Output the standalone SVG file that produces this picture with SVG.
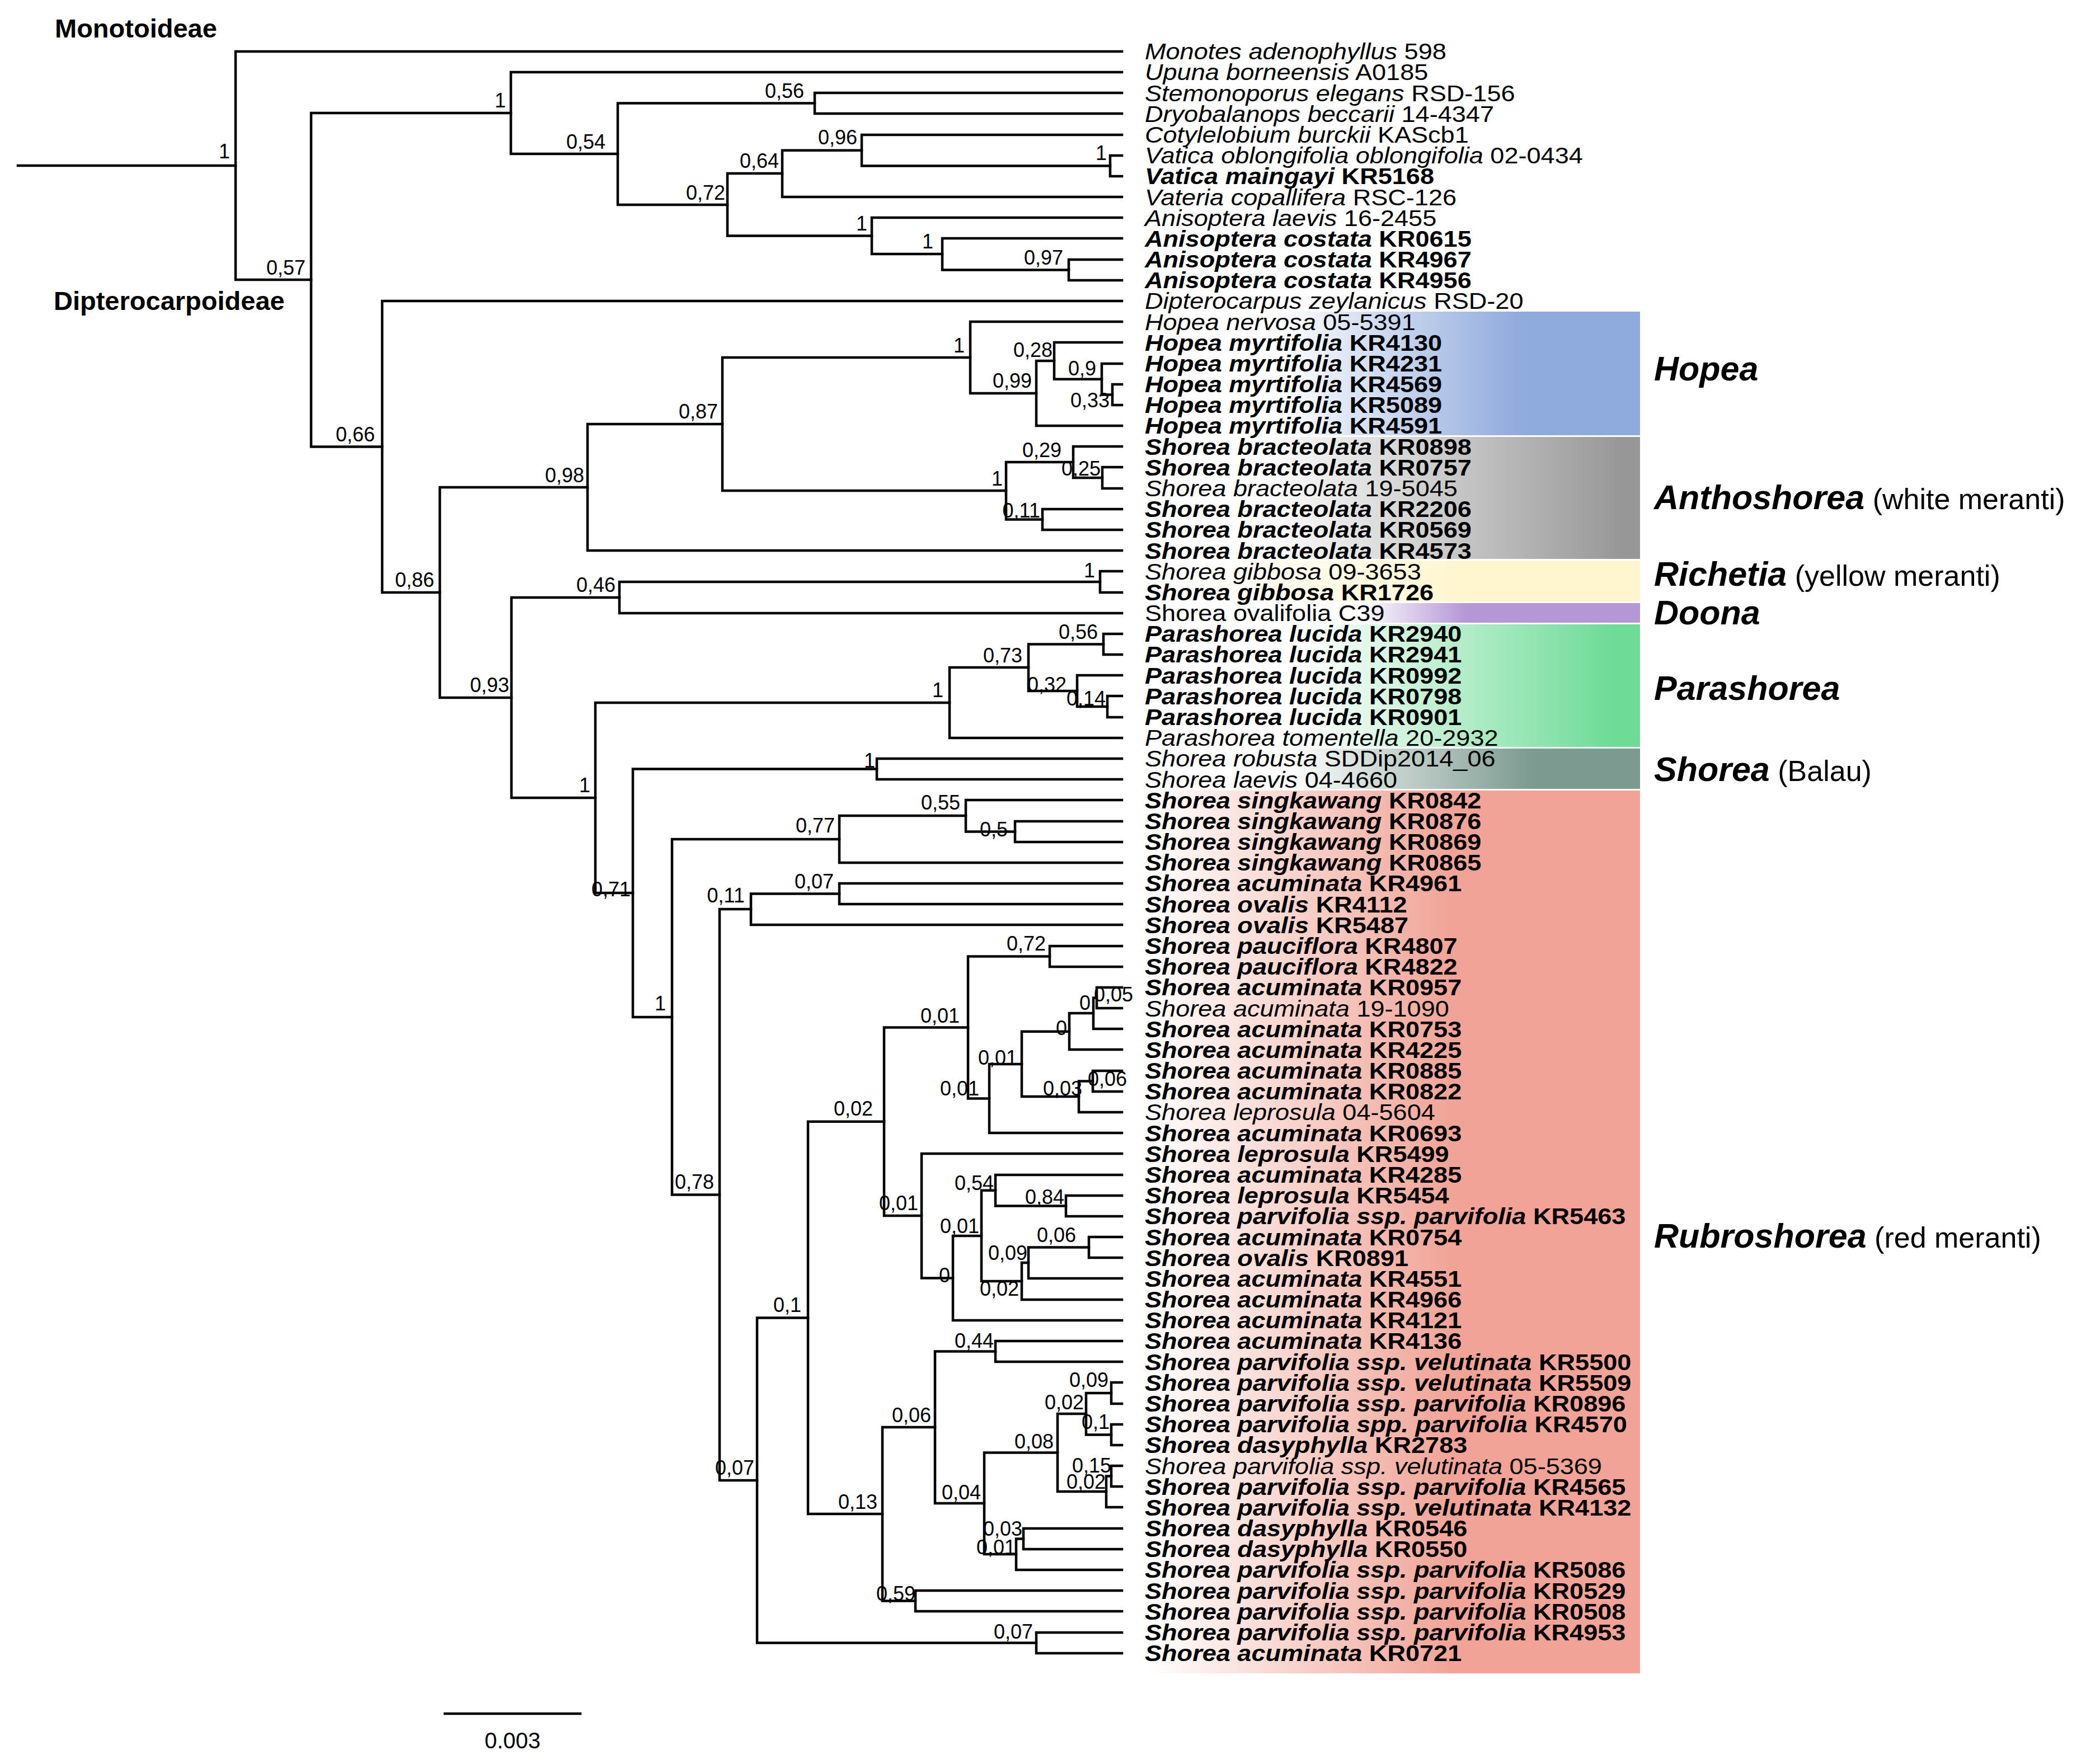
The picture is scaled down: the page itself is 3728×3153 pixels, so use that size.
<svg xmlns="http://www.w3.org/2000/svg" width="3728" height="3153" viewBox="0 0 3728 3153">
<style>
.br{fill:none;stroke:#000;stroke-width:4.5;stroke-linecap:square;stroke-linejoin:miter}
.sv{font-family:'Liberation Sans',Arial,sans-serif;font-size:36px;text-anchor:end;fill:#000}
.lf{font-family:'Liberation Sans',Arial,sans-serif;font-size:41px;fill:#000}
.b{font-weight:bold}
.i{font-style:italic}
.cl{font-family:'Liberation Sans',Arial,sans-serif;font-size:61px;font-weight:bold;font-style:italic;fill:#000}
.cs{font-size:52px;font-weight:normal;font-style:normal}
.sub{font-family:'Liberation Sans',Arial,sans-serif;font-size:47px;font-weight:bold;fill:#000}
</style>
<defs>
<linearGradient id="gHop" gradientUnits="userSpaceOnUse" x1="2280" y1="0" x2="2720" y2="0"><stop offset="0" stop-color="#fff"/><stop offset="1" stop-color="#8FAADC"/></linearGradient>
<linearGradient id="gAnt" gradientUnits="userSpaceOnUse" x1="2250" y1="0" x2="2900" y2="0"><stop offset="0" stop-color="#fff"/><stop offset="1" stop-color="#979797"/></linearGradient>
<linearGradient id="gRic" gradientUnits="userSpaceOnUse" x1="2150" y1="0" x2="2600" y2="0"><stop offset="0" stop-color="#fff"/><stop offset="1" stop-color="#FFF6D0"/></linearGradient>
<linearGradient id="gDoo" gradientUnits="userSpaceOnUse" x1="2430" y1="0" x2="2620" y2="0"><stop offset="0" stop-color="#fff"/><stop offset="1" stop-color="#B597D6"/></linearGradient>
<linearGradient id="gPar" gradientUnits="userSpaceOnUse" x1="2330" y1="0" x2="2880" y2="0"><stop offset="0" stop-color="#fff"/><stop offset="1" stop-color="#6EDB97"/></linearGradient>
<linearGradient id="gBal" gradientUnits="userSpaceOnUse" x1="2300" y1="0" x2="2740" y2="0"><stop offset="0" stop-color="#fff"/><stop offset="1" stop-color="#7C9A8F"/></linearGradient>
<linearGradient id="gRub" gradientUnits="userSpaceOnUse" x1="2050" y1="0" x2="2600" y2="0"><stop offset="0" stop-color="#fff"/><stop offset="1" stop-color="#F0A396"/></linearGradient>
</defs>
<rect width="3728" height="3153" fill="#fff"/>

<g id="clades">
<g id="clade-hopea"><rect x="2040" y="557" width="891" height="221" fill="url(#gHop)"/><text class="cl" x="2956" y="680">Hopea</text></g>
<g id="clade-anthoshorea"><rect x="2040" y="781" width="891" height="218" fill="url(#gAnt)"/><text class="cl" x="2956" y="910">Anthoshorea<tspan class="cs"> (white meranti)</tspan></text></g>
<g id="clade-richetia"><rect x="2040" y="1002" width="891" height="73" fill="url(#gRic)"/><text class="cl" x="2956" y="1047">Richetia<tspan class="cs"> (yellow meranti)</tspan></text></g>
<g id="clade-doona"><rect x="2040" y="1078" width="891" height="35" fill="url(#gDoo)"/><text class="cl" x="2956" y="1116">Doona</text></g>
<g id="clade-parashorea"><rect x="2040" y="1116" width="891" height="219" fill="url(#gPar)"/><text class="cl" x="2956" y="1251">Parashorea</text></g>
<g id="clade-shorea"><rect x="2040" y="1338" width="891" height="72" fill="url(#gBal)"/><text class="cl" x="2956" y="1396">Shorea<tspan class="cs"> (Balau)</tspan></text></g>
<g id="clade-rubroshorea"><rect x="2040" y="1413" width="891" height="1578" fill="url(#gRub)"/><text class="cl" x="2956" y="2230">Rubroshorea<tspan class="cs"> (red meranti)</tspan></text></g>
</g>

<g id="subfamilies">
<text class="sub" x="98" y="67">Monotoideae</text>
<text class="sub" x="96" y="554">Dipterocarpoideae</text>
</g>

<g id="connectors" class="br">
<path d="M32 296H421"/>
<path d="M2005 92H421V500H556"/>
<path d="M913 202H556V798.5H683"/>
<path d="M2005 129H913V275H1104"/>
<path d="M1456 184.5H1104V366H1300"/>
<path d="M2005 166H1456V203H2005"/>
<path d="M1398 310H1300V421.5H1558"/>
<path d="M1540 268.7H1398V352H2005"/>
<path d="M2005 241H1540V296.5H1984"/>
<path d="M2005 278H1984V315H2005"/>
<path d="M2005 389H1558V454H1684"/>
<path d="M2005 426H1684V482.5H1910"/>
<path d="M2005 464H1910V501H2005"/>
<path d="M2005 538H683V1059H786"/>
<path d="M1050 871H786V1247H914"/>
<path d="M1291 758H1050V984H2005"/>
<path d="M1734 639H1291V877H1798"/>
<path d="M2005 575H1734V703H1852"/>
<path d="M1884 645H1852V761H2005"/>
<path d="M2005 612H1884V677.7H1969"/>
<path d="M2005 650H1969V705.5H1988"/>
<path d="M2005 687H1988V724H2005"/>
<path d="M1918 826H1798V928.5H1863"/>
<path d="M2005 798H1918V854H1970"/>
<path d="M2005 835H1970V873H2005"/>
<path d="M2005 910H1863V947H2005"/>
<path d="M1107 1068H914V1426H1064"/>
<path d="M1966 1040H1107V1096H2005"/>
<path d="M2005 1021H1966V1059H2005"/>
<path d="M1697 1256H1064V1596H1131"/>
<path d="M1838 1193H1697V1319H2005"/>
<path d="M1972 1151.5H1838V1235H1925"/>
<path d="M2005 1133H1972V1170H2005"/>
<path d="M2005 1207H1925V1263H1979"/>
<path d="M2005 1244H1979V1282H2005"/>
<path d="M1567 1374.5H1131V1818H1201"/>
<path d="M2005 1356H1567V1393H2005"/>
<path d="M1500 1500H1201V2135.5H1286"/>
<path d="M1726 1458H1500V1542H2005"/>
<path d="M2005 1430H1726V1486.5H1814"/>
<path d="M2005 1468H1814V1505H2005"/>
<path d="M1342 1625H1286V2646H1353"/>
<path d="M1500 1597.5H1342V1653H2005"/>
<path d="M2005 1579H1500V1616H2005"/>
<path d="M1444 2355.4H1353V2936.5H1852"/>
<path d="M2005 2918H1852V2955H2005"/>
<path d="M1580 2004.8H1444V2706H1577"/>
<path d="M1730 1836.5H1580V2173H1647"/>
<path d="M1876 1709.5H1730V1963.5H1768"/>
<path d="M2005 1691H1876V1728H2005"/>
<path d="M1826 1902H1768V2025H2005"/>
<path d="M1911 1843.7H1826V1960H1928"/>
<path d="M1954 1811H1911V1876H2005"/>
<path d="M1960 1783.5H1954V1839H2005"/>
<path d="M2005 1765H1960V1802H2005"/>
<path d="M1953 1932.5H1928V1988H2005"/>
<path d="M2005 1914H1953V1951H2005"/>
<path d="M2005 2062H1647V2284.5H1703"/>
<path d="M1754 2209H1703V2360H2005"/>
<path d="M1779 2127.7H1754V2290H1826"/>
<path d="M2005 2100H1779V2155.5H1905"/>
<path d="M2005 2137H1905V2174H2005"/>
<path d="M1838 2257H1826V2323H2005"/>
<path d="M1946 2229.5H1838V2285H2005"/>
<path d="M2005 2211H1946V2248H2005"/>
<path d="M1671 2551H1577V2861.5H1636"/>
<path d="M1779 2415.5H1671V2687H1759"/>
<path d="M2005 2397H1779V2434H2005"/>
<path d="M1890 2596.5H1759V2778H1816"/>
<path d="M1941 2527H1890V2666H1977"/>
<path d="M1986 2490H1941V2564.5H1986"/>
<path d="M2005 2471H1986V2509H2005"/>
<path d="M2005 2546H1986V2583H2005"/>
<path d="M1986 2638.5H1977V2694H2005"/>
<path d="M2005 2620H1986V2657H2005"/>
<path d="M1829 2750.5H1816V2806H2005"/>
<path d="M2005 2732H1829V2769H2005"/>
<path d="M2005 2843H1636V2880H2005"/>
</g>

<g id="support-values" class="sv">
<text x="411" y="283">1</text>
<text x="546" y="491">0,57</text>
<text x="904" y="192">1</text>
<text x="1082" y="266">0,54</text>
<text x="1437" y="175">0,56</text>
<text x="1296" y="357">0,72</text>
<text x="1392" y="300">0,64</text>
<text x="1532" y="258">0,96</text>
<text x="1978" y="286">1</text>
<text x="1550" y="412">1</text>
<text x="1668" y="444">1</text>
<text x="1900" y="473">0,97</text>
<text x="670" y="789">0,66</text>
<text x="776" y="1049">0,86</text>
<text x="1044" y="862">0,98</text>
<text x="1283" y="748">0,87</text>
<text x="1724" y="630">1</text>
<text x="1844" y="693">0,99</text>
<text x="1881" y="638">0,28</text>
<text x="1959" y="671">0,9</text>
<text x="1983" y="728">0,33</text>
<text x="1792" y="868">1</text>
<text x="1897" y="817">0,29</text>
<text x="1967" y="850">0,25</text>
<text x="1859" y="925">0,11</text>
<text x="910" y="1237">0,93</text>
<text x="1100" y="1058">0,46</text>
<text x="1957" y="1032">1</text>
<text x="1055" y="1416">1</text>
<text x="1686" y="1246">1</text>
<text x="1827" y="1184">0,73</text>
<text x="1962" y="1142">0,56</text>
<text x="1906" y="1236">0,32</text>
<text x="1976" y="1261">0,14</text>
<text x="1127" y="1602">0,71</text>
<text x="1564" y="1372">1</text>
<text x="1190" y="1806">1</text>
<text x="1492" y="1488">0,77</text>
<text x="1716" y="1447">0,55</text>
<text x="1801" y="1495">0,5</text>
<text x="1276" y="2125">0,78</text>
<text x="1331" y="1613">0,11</text>
<text x="1490" y="1588">0,07</text>
<text x="1348" y="2636">0,07</text>
<text x="1432" y="2345">0,1</text>
<text x="1560" y="1994">0,02</text>
<text x="1715" y="1828">0,01</text>
<text x="1869" y="1699">0,72</text>
<text x="1750" y="1958">0,01</text>
<text x="1818" y="1903">0,01</text>
<text x="1907" y="1850">0</text>
<text x="1949" y="1805">0</text>
<text x="2025" y="1790">0,05</text>
<text x="1934" y="1958">0,03</text>
<text x="2014" y="1941">0,06</text>
<text x="1641" y="2163">0,01</text>
<text x="1698" y="2292">0</text>
<text x="1750" y="2204">0,01</text>
<text x="1776" y="2127">0,54</text>
<text x="1902" y="2152">0,84</text>
<text x="1821" y="2316">0,02</text>
<text x="1836" y="2252">0,09</text>
<text x="1923" y="2220">0,06</text>
<text x="1568" y="2697">0,13</text>
<text x="1664" y="2542">0,06</text>
<text x="1776" y="2409">0,44</text>
<text x="1753" y="2680">0,04</text>
<text x="1883" y="2589">0,08</text>
<text x="1937" y="2519">0,02</text>
<text x="1981" y="2479">0,09</text>
<text x="1983" y="2554">0,1</text>
<text x="1976" y="2661">0,02</text>
<text x="1986" y="2632">0,15</text>
<text x="1815" y="2778">0,01</text>
<text x="1827" y="2745">0,03</text>
<text x="1636" y="2861">0,59</text>
<text x="1846" y="2929">0,07</text>
</g>

<g id="taxa" class="lf" transform="matrix(1.1 0 0 1 2046 0)">
<g id="t00"><text y="106.3"><tspan class="i">Monotes adenophyllus</tspan> 598</text></g>
<g id="t01"><text y="143.5"><tspan class="i">Upuna borneensis</tspan> A0185</text></g>
<g id="t02"><text y="180.7"><tspan class="i">Stemonoporus elegans</tspan> RSD-156</text></g>
<g id="t03"><text y="217.8"><tspan class="i">Dryobalanops beccarii</tspan> 14-4347</text></g>
<g id="t04"><text y="255"><tspan class="i">Cotylelobium burckii</tspan> KAScb1</text></g>
<g id="t05"><text y="292.2"><tspan class="i">Vatica oblongifolia oblongifolia</tspan> 02-0434</text></g>
<g id="t06"><text class="b" y="329.4"><tspan class="i">Vatica maingayi</tspan> KR5168</text></g>
<g id="t07"><text y="366.6"><tspan class="i">Vateria copallifera</tspan> RSC-126</text></g>
<g id="t08"><text y="403.7"><tspan class="i">Anisoptera laevis</tspan> 16-2455</text></g>
<g id="t09"><text class="b" y="440.9"><tspan class="i">Anisoptera costata</tspan> KR0615</text></g>
<g id="t10"><text class="b" y="478.1"><tspan class="i">Anisoptera costata</tspan> KR4967</text></g>
<g id="t11"><text class="b" y="515.3"><tspan class="i">Anisoptera costata</tspan> KR4956</text></g>
<g id="t12"><text y="552.5"><tspan class="i">Dipterocarpus zeylanicus</tspan> RSD-20</text></g>
<g id="t13"><text y="589.6"><tspan class="i">Hopea nervosa</tspan> 05-5391</text></g>
<g id="t14"><text class="b" y="626.8"><tspan class="i">Hopea myrtifolia</tspan> KR4130</text></g>
<g id="t15"><text class="b" y="664"><tspan class="i">Hopea myrtifolia</tspan> KR4231</text></g>
<g id="t16"><text class="b" y="701.2"><tspan class="i">Hopea myrtifolia</tspan> KR4569</text></g>
<g id="t17"><text class="b" y="738.4"><tspan class="i">Hopea myrtifolia</tspan> KR5089</text></g>
<g id="t18"><text class="b" y="775.5"><tspan class="i">Hopea myrtifolia</tspan> KR4591</text></g>
<g id="t19"><text class="b" y="812.7"><tspan class="i">Shorea bracteolata</tspan> KR0898</text></g>
<g id="t20"><text class="b" y="849.9"><tspan class="i">Shorea bracteolata</tspan> KR0757</text></g>
<g id="t21"><text y="887.1"><tspan class="i">Shorea bracteolata</tspan> 19-5045</text></g>
<g id="t22"><text class="b" y="924.3"><tspan class="i">Shorea bracteolata</tspan> KR2206</text></g>
<g id="t23"><text class="b" y="961.4"><tspan class="i">Shorea bracteolata</tspan> KR0569</text></g>
<g id="t24"><text class="b" y="998.6"><tspan class="i">Shorea bracteolata</tspan> KR4573</text></g>
<g id="t25"><text y="1035.8"><tspan class="i">Shorea gibbosa</tspan> 09-3653</text></g>
<g id="t26"><text class="b" y="1073"><tspan class="i">Shorea gibbosa</tspan> KR1726</text></g>
<g id="t27"><text y="1110.2">Shorea ovalifolia C39</text></g>
<g id="t28"><text class="b" y="1147.3"><tspan class="i">Parashorea lucida</tspan> KR2940</text></g>
<g id="t29"><text class="b" y="1184.5"><tspan class="i">Parashorea lucida</tspan> KR2941</text></g>
<g id="t30"><text class="b" y="1221.7"><tspan class="i">Parashorea lucida</tspan> KR0992</text></g>
<g id="t31"><text class="b" y="1258.9"><tspan class="i">Parashorea lucida</tspan> KR0798</text></g>
<g id="t32"><text class="b" y="1296.1"><tspan class="i">Parashorea lucida</tspan> KR0901</text></g>
<g id="t33"><text y="1333.2"><tspan class="i">Parashorea tomentella</tspan> 20-2932</text></g>
<g id="t34"><text y="1370.4"><tspan class="i">Shorea robusta</tspan> SDDip2014_06</text></g>
<g id="t35"><text y="1407.6"><tspan class="i">Shorea laevis</tspan> 04-4660</text></g>
<g id="t36"><text class="b" y="1444.8"><tspan class="i">Shorea singkawang</tspan> KR0842</text></g>
<g id="t37"><text class="b" y="1482"><tspan class="i">Shorea singkawang</tspan> KR0876</text></g>
<g id="t38"><text class="b" y="1519.1"><tspan class="i">Shorea singkawang</tspan> KR0869</text></g>
<g id="t39"><text class="b" y="1556.3"><tspan class="i">Shorea singkawang</tspan> KR0865</text></g>
<g id="t40"><text class="b" y="1593.5"><tspan class="i">Shorea acuminata</tspan> KR4961</text></g>
<g id="t41"><text class="b" y="1630.7"><tspan class="i">Shorea ovalis</tspan> KR4112</text></g>
<g id="t42"><text class="b" y="1667.9"><tspan class="i">Shorea ovalis</tspan> KR5487</text></g>
<g id="t43"><text class="b" y="1705"><tspan class="i">Shorea pauciflora</tspan> KR4807</text></g>
<g id="t44"><text class="b" y="1742.2"><tspan class="i">Shorea pauciflora</tspan> KR4822</text></g>
<g id="t45"><text class="b" y="1779.4"><tspan class="i">Shorea acuminata</tspan> KR0957</text></g>
<g id="t46"><text y="1816.6"><tspan class="i">Shorea acuminata</tspan> 19-1090</text></g>
<g id="t47"><text class="b" y="1853.8"><tspan class="i">Shorea acuminata</tspan> KR0753</text></g>
<g id="t48"><text class="b" y="1890.9"><tspan class="i">Shorea acuminata</tspan> KR4225</text></g>
<g id="t49"><text class="b" y="1928.1"><tspan class="i">Shorea acuminata</tspan> KR0885</text></g>
<g id="t50"><text class="b" y="1965.3"><tspan class="i">Shorea acuminata</tspan> KR0822</text></g>
<g id="t51"><text y="2002.5"><tspan class="i">Shorea leprosula</tspan> 04-5604</text></g>
<g id="t52"><text class="b" y="2039.7"><tspan class="i">Shorea acuminata</tspan> KR0693</text></g>
<g id="t53"><text class="b" y="2076.8"><tspan class="i">Shorea leprosula</tspan> KR5499</text></g>
<g id="t54"><text class="b" y="2114"><tspan class="i">Shorea acuminata</tspan> KR4285</text></g>
<g id="t55"><text class="b" y="2151.2"><tspan class="i">Shorea leprosula</tspan> KR5454</text></g>
<g id="t56"><text class="b" y="2188.4"><tspan class="i">Shorea parvifolia ssp. parvifolia</tspan> KR5463</text></g>
<g id="t57"><text class="b" y="2225.6"><tspan class="i">Shorea acuminata</tspan> KR0754</text></g>
<g id="t58"><text class="b" y="2262.7"><tspan class="i">Shorea ovalis</tspan> KR0891</text></g>
<g id="t59"><text class="b" y="2299.9"><tspan class="i">Shorea acuminata</tspan> KR4551</text></g>
<g id="t60"><text class="b" y="2337.1"><tspan class="i">Shorea acuminata</tspan> KR4966</text></g>
<g id="t61"><text class="b" y="2374.3"><tspan class="i">Shorea acuminata</tspan> KR4121</text></g>
<g id="t62"><text class="b" y="2411.5"><tspan class="i">Shorea acuminata</tspan> KR4136</text></g>
<g id="t63"><text class="b" y="2448.6"><tspan class="i">Shorea parvifolia ssp. velutinata</tspan> KR5500</text></g>
<g id="t64"><text class="b" y="2485.8"><tspan class="i">Shorea parvifolia ssp. velutinata</tspan> KR5509</text></g>
<g id="t65"><text class="b" y="2523"><tspan class="i">Shorea parvifolia ssp. parvifolia</tspan> KR0896</text></g>
<g id="t66"><text class="b" y="2560.2"><tspan class="i">Shorea parvifolia spp. parvifolia</tspan> KR4570</text></g>
<g id="t67"><text class="b" y="2597.4"><tspan class="i">Shorea dasyphylla</tspan> KR2783</text></g>
<g id="t68"><text y="2634.5"><tspan class="i">Shorea parvifolia ssp. velutinata</tspan> 05-5369</text></g>
<g id="t69"><text class="b" y="2671.7"><tspan class="i">Shorea parvifolia ssp. parvifolia</tspan> KR4565</text></g>
<g id="t70"><text class="b" y="2708.9"><tspan class="i">Shorea parvifolia ssp. velutinata</tspan> KR4132</text></g>
<g id="t71"><text class="b" y="2746.1"><tspan class="i">Shorea dasyphylla</tspan> KR0546</text></g>
<g id="t72"><text class="b" y="2783.3"><tspan class="i">Shorea dasyphylla</tspan> KR0550</text></g>
<g id="t73"><text class="b" y="2820.4"><tspan class="i">Shorea parvifolia ssp. parvifolia</tspan> KR5086</text></g>
<g id="t74"><text class="b" y="2857.6"><tspan class="i">Shorea parvifolia ssp. parvifolia</tspan> KR0529</text></g>
<g id="t75"><text class="b" y="2894.8"><tspan class="i">Shorea parvifolia ssp. parvifolia</tspan> KR0508</text></g>
<g id="t76"><text class="b" y="2932"><tspan class="i">Shorea parvifolia ssp. parvifolia</tspan> KR4953</text></g>
<g id="t77"><text class="b" y="2969.2"><tspan class="i">Shorea acuminata</tspan> KR0721</text></g>
</g>

<g id="scale-bar">
<path class="br" d="M795 3063H1037"/>
<text x="916" y="3125" font-family="'Liberation Sans',Arial,sans-serif" font-size="40" text-anchor="middle">0.003</text>
</g>
</svg>
